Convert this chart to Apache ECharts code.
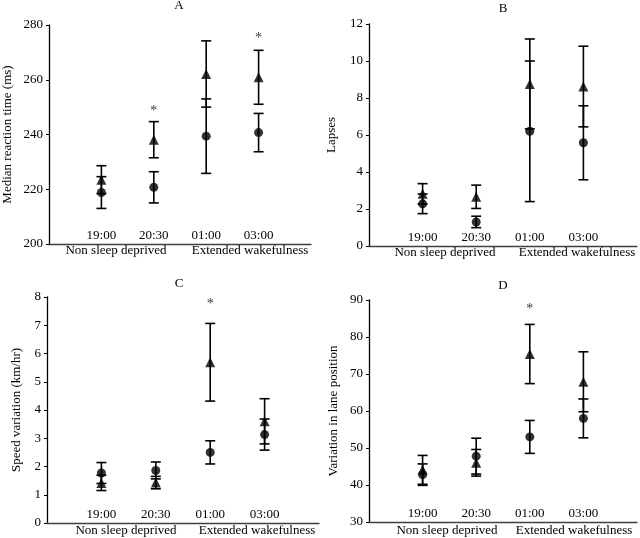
<!DOCTYPE html>
<html>
<head>
<meta charset="utf-8">
<script src="https://cdn.jsdelivr.net/npm/echarts@6/dist/echarts.min.js"></script>
<style>html,body{margin:0;padding:0;background:#fff}#c{width:640px;height:538px}</style>
</head>
<body>
<div id="c"></div>
<script>
// ---- data ----
var categories = ['', '19:00', '20:30', '01:00', '03:00', ''];
var times = ['19:00', '20:30', '01:00', '03:00'];

// Panel A: Median reaction time (ms)
var aTriMean = [223.5, 238.1, 262.1, 260.9];
var aTriErr  = [5.1, 6.6, 12.1, 9.85];
var aCirMean = [218.8, 220.7, 239.4, 240.7];
var aCirErr  = [5.8, 5.7, 13.6, 7.0];
var aStarX = ['20:30', '03:00'];
var aStarY = [248.5, 275.2];

// Panel B: Lapses
var bTriMean = [2.82, 2.66, 8.76, 8.62];
var bTriErr  = [0.55, 0.63, 2.43, 2.18];
var bCirMean = [2.28, 1.30, 6.20, 5.58];
var bCirErr  = [0.53, 0.31, 3.80, 2.00];
var bStarX = [];
var bStarY = [];

// Panel C: Speed variation (km/hr)
var cTriMean = [1.42, 1.43, 5.69, 3.60];
var cTriErr  = [0.27, 0.22, 1.375, 0.80];
var cCirMean = [1.77, 1.86, 2.50, 3.13];
var cCirErr  = [0.37, 0.30, 0.41, 0.55];
var cStarX = ['01:00'];
var cStarY = [7.75];

// Panel D: Variation in lane position
var dTriMean = [44.1, 46.0, 75.4, 67.9];
var dTriErr  = [3.9, 3.6, 8.0, 8.1];
var dCirMean = [42.8, 47.8, 53.0, 58.0];
var dCirErr  = [2.9, 4.85, 4.45, 5.25];
var dStarX = ['01:00'];
var dStarY = [87.6];

var panelTitles = ['A', 'B', 'C', 'D'];
var yNames = ['Median reaction time (ms)', 'Lapses', 'Speed variation (km/hr)', 'Variation in lane position'];
var yMin = [200, 0, 0, 30];
var yMax = [280, 12, 8, 90];
var yStep = [20, 2, 1, 10];
var groupLabels = ['Non sleep deprived', 'Extended wakefulness'];

// ---- layout ----
var FONT = 'Liberation Serif, Times New Roman, serif';
var grids = [
  {left: 48, top: 25, width: 263, height: 219},
  {left: 369, top: 24, width: 269, height: 222},
  {left: 47, top: 297, width: 272, height: 226},
  {left: 369, top: 300, width: 269, height: 222}
];
var nameGaps = [35, 31, 24, 29];
var titlePos = [[179, 6], [503, 8.5], [179, 284], [503, 286]];
var groupPos = [
  [[116, 251], [250, 251]],
  [[445, 253], [577, 253]],
  [[126, 531], [257, 531]],
  [[447, 531], [574, 531]]
];

var panels = [
  [aTriMean, aTriErr, aCirMean, aCirErr, aStarX, aStarY],
  [bTriMean, bTriErr, bCirMean, bCirErr, bStarX, bStarY],
  [cTriMean, cTriErr, cCirMean, cCirErr, cStarX, cStarY],
  [dTriMean, dTriErr, dCirMean, dCirErr, dStarX, dStarY]
];

function errRender(params, api) {
  var x = api.value(0);
  var lo = api.coord([x, api.value(1)]);
  var hi = api.coord([x, api.value(2)]);
  var w = 5;
  var st = {stroke: '#000', lineWidth: 1.6};
  return {type: 'group', children: [
    {type: 'line', shape: {x1: hi[0], y1: hi[1], x2: lo[0], y2: lo[1]}, style: st},
    {type: 'line', shape: {x1: hi[0] - w, y1: hi[1], x2: hi[0] + w, y2: hi[1]}, style: st},
    {type: 'line', shape: {x1: lo[0] - w, y1: lo[1], x2: lo[0] + w, y2: lo[1]}, style: st}
  ]};
}

var xAxes = [], yAxes = [], series = [], graphics = [];
panels.forEach(function (p, i) {
  xAxes.push({
    gridIndex: i, type: 'category', data: categories, boundaryGap: false,
    axisLine: {lineStyle: {color: '#404040', width: 1.3}},
    axisTick: {show: false},
    axisLabel: {inside: true, interval: 0, margin: 2, color: '#000', fontFamily: FONT, fontSize: 13},
    splitLine: {show: false}
  });
  yAxes.push({
    gridIndex: i, type: 'value', min: yMin[i], max: yMax[i], interval: yStep[i],
    name: yNames[i], nameLocation: 'middle', nameGap: nameGaps[i], nameRotate: 90,
    nameTextStyle: {color: '#000', fontFamily: FONT, fontSize: 13},
    axisLine: {show: true, lineStyle: {color: '#000', width: 1.3}},
    axisTick: {show: true, length: 3, lineStyle: {color: '#000'}},
    axisLabel: {color: '#000', fontFamily: FONT, fontSize: 13, margin: 6},
    splitLine: {show: false}
  });
  var triErrData = times.map(function (t, k) { return [t, p[0][k] - p[1][k], p[0][k] + p[1][k]]; });
  var cirErrData = times.map(function (t, k) { return [t, p[2][k] - p[3][k], p[2][k] + p[3][k]]; });
  series.push({type: 'custom', xAxisIndex: i, yAxisIndex: i, renderItem: errRender, data: cirErrData, z: 2, encode: {x: 0, y: [1, 2]}});
  series.push({type: 'custom', xAxisIndex: i, yAxisIndex: i, renderItem: errRender, data: triErrData, z: 2, encode: {x: 0, y: [1, 2]}});
  series.push({type: 'scatter', xAxisIndex: i, yAxisIndex: i, symbol: 'circle', symbolSize: 9,
    itemStyle: {color: '#000'}, z: 5, data: times.map(function (t, k) { return [t, p[2][k]]; })});
  series.push({type: 'scatter', xAxisIndex: i, yAxisIndex: i, symbol: 'triangle', symbolSize: [10, 10],
    itemStyle: {color: '#000'}, z: 6, data: times.map(function (t, k) { return [t, p[0][k]]; })});
  series.push({type: 'scatter', xAxisIndex: i, yAxisIndex: i, symbolSize: 0, z: 6,
    label: {show: true, position: 'inside', formatter: '*', color: '#000', fontFamily: FONT, fontSize: 14},
    data: p[4].map(function (t, k) { return [t, p[5][k]]; })});
  graphics.push({type: 'text', x: titlePos[i][0], y: titlePos[i][1],
    style: {text: panelTitles[i], font: '13px ' + FONT, fill: '#000', textAlign: 'center', textVerticalAlign: 'middle'}});
  groupLabels.forEach(function (g, j) {
    graphics.push({type: 'text', x: groupPos[i][j][0], y: groupPos[i][j][1],
      style: {text: g, font: '13px ' + FONT, fill: '#000', textAlign: 'center', textVerticalAlign: 'middle'}});
  });
});

var chart = echarts.init(document.getElementById('c'), null, {renderer: 'canvas'});
chart.setOption({
  animation: false,
  backgroundColor: '#fff',
  grid: grids,
  xAxis: xAxes,
  yAxis: yAxes,
  series: series,
  graphic: graphics
});
</script>
</body>
</html>
